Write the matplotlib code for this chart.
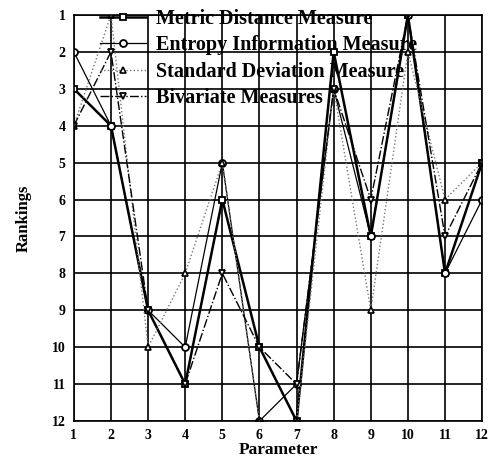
import matplotlib
matplotlib.use("Agg")
import matplotlib.pyplot as plt

params = list(range(1, 13))
metric = [3, 4, 9, 11, 6, 10, 12, 2, 7, 1, 8, 5]
entropy = [2, 4, 9, 10, 5, 12, 11, 3, 7, 1, 8, 6]
stddev = [4, 1, 10, 8, 5, 12, 12, 3, 9, 2, 6, 5]
bivariate = [4, 2, 9, 11, 8, 10, 11, 3, 6, 1, 7, 5]
labels = ["Metric Distance Measure", "Entropy Information Measure",
          "Standard Deviation Measure", "Bivariate Measures"]

plt.rcParams['font.family'] = ['Liberation Serif', 'DejaVu Serif']

fig = plt.figure(figsize=(4.89, 4.63), dpi=100)
ax = fig.add_axes([0.151, 0.0907, 0.835, 0.877])

mk = dict(markersize=5, markerfacecolor='white', markeredgewidth=1.3)
ax.plot(params, metric, '-', color='black', lw=1.8, marker='s', label=labels[0], **mk)
ax.plot(params, entropy, '-', color='black', lw=0.9, marker='o', label=labels[1], **mk)
ax.plot(params, stddev, ':', color='#777777', lw=1.0, marker='^', markeredgecolor='black', label=labels[2], markersize=5, markerfacecolor='white', markeredgewidth=1.2)
ax.plot(params, bivariate, '-.', color='black', lw=1.0, marker='v', label=labels[3], **mk)

ax.set_xlim(1, 12)
ax.set_ylim(12, 1)
ax.set_xticks(params)
ax.set_yticks(range(1, 13))
ax.grid(True, color='black', lw=1.2)
for s in ax.spines.values():
    s.set_linewidth(1.2)
ax.tick_params(length=0, labelsize=10, pad=6)
for t in ax.get_xticklabels() + ax.get_yticklabels():
    t.set_fontweight('bold')

ax.set_xlabel("Parameter", fontsize=12.5, fontweight='bold', labelpad=0)
ax.set_ylabel("Rankings", fontsize=12, fontweight='bold', labelpad=14)

leg = ax.legend(loc='upper left', bbox_to_anchor=(0.02, 1.06), frameon=False,
                prop={'size': 14.5, 'weight': 'bold'}, labelspacing=0.32,
                handlelength=2.3, handletextpad=0.45)

fig.savefig("out.png", dpi=100)
